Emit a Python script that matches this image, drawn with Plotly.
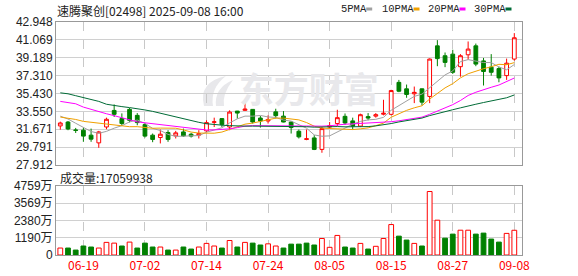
import plotly.graph_objects as go

# ---------------- data ----------------
dates = ["06-16", "06-17", "06-18", "06-19", "06-20", "06-23", "06-24", "06-25", "06-26", "06-27",
         "06-30", "07-02", "07-03", "07-04", "07-07", "07-08", "07-09", "07-10", "07-11", "07-14",
         "07-15", "07-16", "07-17", "07-18", "07-21", "07-22", "07-23", "07-24", "07-25", "07-28",
         "07-29", "07-30", "07-31", "08-01", "08-04", "08-05", "08-06", "08-07", "08-08", "08-11",
         "08-12", "08-13", "08-14", "08-15", "08-18", "08-19", "08-20", "08-21", "08-22", "08-25",
         "08-26", "08-27", "08-28", "08-29", "09-01", "09-02", "09-03", "09-04", "09-05", "09-08"]
tick_dates = ["06-19", "07-02", "07-14", "07-24", "08-05", "08-15", "08-27", "09-08"]

opens = [32.02, 32.43, 31.60, 31.57, 31.05, 30.24, 31.91, 33.65, 32.79, 33.76,
         33.13, 32.16, 31.05, 30.80, 31.33, 30.97, 31.39, 31.15, 31.05, 31.50,
         32.40, 32.79, 31.91, 33.58, 33.66, 33.76, 32.85, 32.54, 33.50, 33.05,
         32.43, 31.46, 30.60, 30.76, 29.55, 31.90, 32.27, 33.03, 32.55, 32.00,
         33.00, 33.05, 33.25, 33.24, 36.60, 35.92, 35.40, 35.92, 35.12, 40.44,
         39.40, 39.57, 38.25, 39.50, 40.44, 38.86, 38.20, 38.05, 37.31, 39.05]
closes = [32.33, 31.70, 31.55, 30.95, 30.63, 31.39, 32.72, 33.24, 32.27, 32.61,
          32.37, 30.95, 30.60, 31.15, 30.60, 31.29, 30.97, 30.95, 31.22, 32.37,
          32.45, 32.16, 33.48, 33.37, 33.79, 32.43, 32.54, 32.70, 33.10, 32.43,
          31.85, 30.87, 30.67, 29.55, 31.74, 32.05, 32.89, 32.33, 32.00, 33.20,
          32.85, 33.20, 33.35, 35.74, 35.67, 35.33, 35.55, 34.52, 39.05, 39.10,
          38.70, 37.66, 39.40, 40.10, 38.52, 37.74, 37.66, 37.07, 38.62, 41.29]
highs = [32.47, 32.54, 31.81, 31.81, 31.74, 31.50, 32.89, 34.28, 33.34, 33.90,
         33.37, 32.33, 31.22, 31.64, 31.57, 31.50, 31.74, 31.29, 31.57, 32.61,
         32.89, 32.85, 33.66, 33.60, 34.77, 33.80, 33.06, 33.13, 33.83, 33.58,
         32.50, 31.64, 31.64, 31.05, 31.91, 32.43, 33.72, 33.33, 32.89, 33.31,
         33.37, 33.37, 34.77, 35.82, 36.86, 36.37, 36.16, 35.95, 39.12, 41.04,
         39.74, 40.03, 39.57, 40.90, 40.68, 39.17, 39.57, 38.25, 39.10, 41.78]
lows = [31.63, 31.57, 31.28, 30.35, 30.35, 29.72, 31.67, 32.96, 32.02, 32.40,
        32.09, 30.80, 30.31, 30.18, 30.35, 30.70, 30.87, 30.80, 30.70, 31.39,
        31.91, 31.91, 31.57, 32.79, 33.60, 32.27, 31.85, 32.27, 32.80, 32.40,
        31.22, 30.70, 30.52, 29.48, 29.20, 31.74, 32.00, 32.15, 31.64, 31.90,
        32.61, 32.89, 33.13, 33.13, 35.57, 34.98, 34.42, 34.18, 34.42, 38.30,
        38.20, 37.49, 37.20, 39.00, 38.30, 36.27, 37.31, 36.61, 36.86, 38.88]

# volume in 万 (10k shares); last day exact 17059938
volumes_wan = [480, 480, 340, 620, 550, 480, 870, 820, 620, 890,
               480, 820, 550, 550, 340, 340, 550, 410, 550, 800,
               620, 480, 1000, 550, 870, 820, 690, 770, 620, 480,
               750, 750, 820, 690, 1140, 530, 1350, 550, 480, 800,
               410, 600, 1140, 2100, 1300, 1030, 800, 620, 4380, 2400,
               1160, 1440, 1710, 1710, 1440, 1510, 1100, 890, 1490, 1705.9938]
# 1 = red (up vs previous close), 0 = green
vol_up = [1, 0, 0, 0, 0, 1, 1, 1, 0, 1,
          0, 0, 0, 1, 0, 1, 0, 0, 1, 1,
          1, 0, 1, 0, 1, 0, 0, 1, 1, 0,
          0, 0, 0, 0, 1, 1, 1, 0, 0, 1,
          0, 1, 1, 1, 0, 0, 1, 0, 1, 1,
          0, 0, 1, 1, 0, 0, 0, 0, 1, 1]

# moving-average values read at the start of the window (before enough visible closes exist)
ma5_head = [33.05, 32.75, 32.30, 31.85]
ma10_head = [32.95, 32.85, 32.70, 32.50, 32.40, 32.30, 32.25, 32.15, 32.05]
ma20_head = [34.60, 34.50, 34.35, 34.00, 33.75, 33.50, 33.30, 33.10, 32.90, 32.65,
             32.45, 32.35, 32.25, 32.15, 32.05, 31.95, 31.85, 31.75, 31.65]
ma30_head = [35.50, 35.40, 35.20, 35.00, 34.80, 34.60, 34.30, 34.15, 34.05, 33.95,
             33.85, 33.70, 33.55, 33.35, 33.20, 33.00, 32.80, 32.60, 32.40, 32.25,
             32.15, 32.10, 32.05, 32.00, 32.00, 32.00, 32.00, 32.00, 31.98]

price_ticks = [27.912, 29.791, 31.671, 33.550, 35.430, 37.310, 39.189, 41.069, 42.948]
vol_ticks_wan = [0, 1190, 2380, 3569, 4759]
last_volume = 17059938
title_text = "速腾聚创[02498] 2025-09-08 16:00"

# ---------------- derived ----------------
n = len(dates)
xs = list(range(n))


def moving_avg(head, w):
    out = []
    for i in range(n):
        if i >= w - 1:
            out.append(sum(closes[i - w + 1:i + 1]) / w)
        else:
            out.append(head[i])
    return out


ma = {
    "5PMA": (moving_avg(ma5_head, 5), "#a0a0a0"),
    "10PMA": (moving_avg(ma10_head, 10), "#f0a000"),
    "20PMA": (moving_avg(ma20_head, 20), "#ff00ff"),
    "30PMA": (moving_avg(ma30_head, 30), "#006b36"),
}

volumes = [v * 1e4 for v in volumes_wan]

RED = "#ff0000"
GREEN = "#008000"

fig = go.Figure()

# watermark (behind)
fig.add_trace(go.Scatter(x=[32.3], y=[35.35], mode="text", text=["东方财富"],
                         textfont=dict(family="Noto Sans CJK SC", size=35, color="#e8e8eb", weight="bold"),
                         hoverinfo="skip", showlegend=False, xaxis="x", yaxis="y"))

for name, (vals, col) in ma.items():
    fig.add_trace(go.Scatter(x=xs, y=vals, mode="lines", line=dict(color=col, width=1),
                             name=name, showlegend=False, xaxis="x", yaxis="y", hoverinfo="skip"))

fig.add_trace(go.Candlestick(
    x=xs, open=opens, high=highs, low=lows, close=closes,
    increasing=dict(line=dict(color=RED, width=1), fillcolor="white"),
    decreasing=dict(line=dict(color=GREEN, width=1), fillcolor=GREEN),
    whiskerwidth=0, showlegend=False, xaxis="x", yaxis="y", hoverinfo="skip"))

fig.add_trace(go.Bar(
    x=xs, y=volumes, width=0.62,
    marker=dict(color=["white" if u else GREEN for u in vol_up],
                line=dict(color=[RED if u else GREEN for u in vol_up], width=1)),
    showlegend=False, xaxis="x2", yaxis="y2", hoverinfo="skip"))

# ---------------- layout ----------------
W, H = 578, 276
L, R, T, B = 56, 56, 22, 21
PW, PH = W - L - R, H - T - B


def px(xp):
    return (xp - L) / PW


def py(yp):
    return (H - B - yp) / PH


xrange_ = [-0.56, 60.0]
tickvals = [dates.index(d) for d in tick_dates]

common_x = dict(range=xrange_, showgrid=True, gridcolor="#c8c8c8", griddash="dash", gridwidth=1,
                zeroline=False, showline=True, mirror=True, linecolor="#999999", linewidth=1,
                tickvals=tickvals, ticks="", fixedrange=True, automargin=False)

fig.update_layout(
    width=W, height=H, margin=dict(l=L, r=R, t=T, b=B, autoexpand=False),
    paper_bgcolor="white", plot_bgcolor="white",
    xaxis=dict(**common_x, anchor="y", showticklabels=False, rangeslider=dict(visible=False)),
    xaxis2=dict(**common_x, anchor="y2", ticktext=tick_dates, showticklabels=True,
                tickfont=dict(family="Noto Sans CJK SC", size=12, color=RED)),
    yaxis=dict(domain=[py(165), 1.0], range=[price_ticks[0], price_ticks[-1]], tickvals=price_ticks,
               ticktext=[f"{v:.3f}" for v in price_ticks], showgrid=True, gridcolor="#d0d0d0",
               zeroline=False, showline=True, mirror=True, linecolor="#999999", linewidth=1,
               tickfont=dict(family="Liberation Sans", size=12, color="#222222"), ticks="",
               automargin=False),
    yaxis2=dict(domain=[0.0, py(186)], range=[0, vol_ticks_wan[-1] * 1e4],
                tickvals=[v * 1e4 for v in vol_ticks_wan],
                ticktext=[("0" if v == 0 else f"{v}万") for v in vol_ticks_wan],
                showgrid=True, gridcolor="#d0d0d0", zeroline=False, showline=True, mirror=True,
                linecolor="#999999", linewidth=1,
                tickfont=dict(family="Liberation Sans, Noto Sans CJK SC", size=12, color="#222222"), ticks="",
                automargin=False),
    showlegend=False,
)

annotations = [
    dict(x=px(55), y=py(10), xref="paper", yref="paper", xanchor="left", yanchor="middle",
         text=title_text, showarrow=False,
         font=dict(family="Noto Sans CJK SC", size=12, color="#222222")),
    dict(x=px(58), y=py(177), xref="paper", yref="paper", xanchor="left", yanchor="middle",
         text=f"成交量:{last_volume}", showarrow=False,
         font=dict(family="Noto Sans CJK SC", size=12, color="#222222")),
]

legend_pos = {"5PMA": 339, "10PMA": 380, "20PMA": 426, "30PMA": 472}
shapes = []
for name, (vals, col) in ma.items():
    x0 = legend_pos[name]
    annotations.append(dict(x=px(x0), y=py(9.5), xref="paper", yref="paper", xanchor="left",
                            yanchor="middle", text=name, showarrow=False,
                            font=dict(family="Liberation Mono", size=10.5, color="#222222")))
    sx = x0 + len(name) * 6.3 + 2
    shapes.append(dict(type="rect", xref="paper", yref="paper", x0=px(sx), x1=px(sx + 6),
                       y0=py(10.5), y1=py(7.5), fillcolor=col, line=dict(width=0)))


# watermark logo: a light grey swoosh left of the text
def pt(xp, yp):
    return f"{px(xp):.4f},{py(yp):.4f}"


logo_path = ("M " + pt(204, 106) + " Q " + pt(198, 82) + " " + pt(226, 76) +
             " Q " + pt(210, 88) + " " + pt(213, 106) + " Z " +
             "M " + pt(216, 106) + " Q " + pt(214, 88) + " " + pt(233, 80) +
             " Q " + pt(222, 94) + " " + pt(224, 106) + " Z")
shapes.append(dict(type="path", xref="paper", yref="paper", path=logo_path,
                   fillcolor="#e8e8eb", line=dict(width=0), layer="below"))

fig.update_layout(annotations=annotations, shapes=shapes)

fig.write_html("out.html")
